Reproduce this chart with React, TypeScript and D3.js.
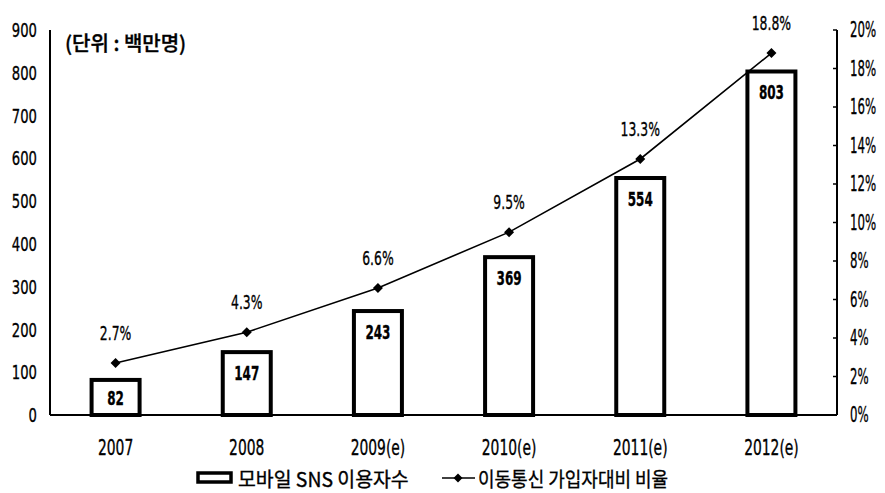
import React from "react";
import * as d3 from "d3";

const categories = ["2007", "2008", "2009(e)", "2010(e)", "2011(e)", "2012(e)"];
const users = [82, 147, 243, 369, 554, 803];
const ratio = [2.7, 4.3, 6.6, 9.5, 13.3, 18.8];
const leftTicks = [0, 100, 200, 300, 400, 500, 600, 700, 800, 900];
const rightTicks = [0, 2, 4, 6, 8, 10, 12, 14, 16, 18, 20];
const unitLabel = "(단위 : 백만명)";
const barLegend = "모바일 SNS 이용자수";
const lineLegend = "이동통신 가입자대비 비율";

const W = 885;
const H = 493;
const left = 50;
const right = 837;
const top = 30;
const bottom = 415;

const numFont = "'DejaVu Sans', 'Liberation Sans', sans-serif";
const krFont = "'Noto Sans CJK KR', 'Noto Sans', sans-serif";

type TxtProps = {
  x: number;
  y: number;
  sx?: number;
  anchor?: "start" | "middle" | "end";
  size?: number;
  weight?: number;
  font?: string;
  children: React.ReactNode;
};

// Text squeezed horizontally to mimic a condensed typeface
function Txt({ x, y, sx = 0.68, anchor = "start", size = 20, weight = 400, font = numFont, children }: TxtProps) {
  return (
    <text
      transform={`translate(${x},${y}) scale(${sx},1)`}
      textAnchor={anchor}
      dominantBaseline="central"
      fontFamily={font}
      fontSize={size}
      fontWeight={weight}
      fill="#000"
      stroke="#000"
      strokeWidth={0.35}
    >
      {children}
    </text>
  );
}

export default function App() {
  const x = d3.scaleBand<string>().domain(categories).range([left, right]).paddingInner(0).paddingOuter(0);
  const yL = d3.scaleLinear().domain([0, 900]).range([bottom, top]);
  const yR = d3.scaleLinear().domain([0, 20]).range([bottom, top]);
  const barW = 48;
  const cx = (c: string) => (x(c) ?? 0) + x.bandwidth() / 2;

  const line = d3
    .line<number>()
    .x((_, i) => cx(categories[i]))
    .y((d) => yR(d));

  const diamond = (px: number, py: number, r: number) =>
    `M${px},${py - r}L${px + r},${py}L${px},${py + r}L${px - r},${py}Z`;

  return (
    <svg width={W} height={H} style={{ position: "absolute", left: 0, top: 0, background: "#fff" }}>
      <rect x={0} y={0} width={W} height={H} fill="#fff" />

      {/* left axis */}
      <line x1={left} x2={left} y1={top} y2={bottom} stroke="#000" strokeWidth={2} />
      {leftTicks.map((t) => (
        <Txt key={"l" + t} x={37} y={yL(t)} anchor="end" sx={0.66}>
          {t}
        </Txt>
      ))}

      {/* right axis */}
      <line x1={right} x2={right} y1={top} y2={bottom} stroke="#000" strokeWidth={2} />
      {rightTicks.map((t) => (
        <g key={"r" + t}>
          <line x1={right - 4} x2={right} y1={yR(t)} y2={yR(t)} stroke="#000" strokeWidth={1.5} />
          <Txt x={850} y={yR(t)} sx={0.56} size={21}>
            {t}%
          </Txt>
        </g>
      ))}

      {/* baseline */}
      <line x1={left} x2={right} y1={bottom} y2={bottom} stroke="#000" strokeWidth={2} />

      <Txt x={65} y={42} font={krFont} size={20} sx={1.0} weight={500}>
        {unitLabel}
      </Txt>

      {/* bars */}
      {users.map((v, i) => {
        const c = categories[i];
        const bx = cx(c) - barW / 2;
        const by = yL(v);
        return (
          <g key={"b" + c}>
            <rect
              x={bx}
              y={by}
              width={barW}
              height={bottom - by}
              fill="#fff"
              stroke="#000"
              strokeWidth={4}
            />
            <Txt x={cx(c)} y={Math.min(by + 21, bottom - 17)} anchor="middle" size={20} weight={700} sx={0.6}>
              {v}
            </Txt>
          </g>
        );
      })}

      {/* ratio line */}
      <path d={line(ratio) ?? ""} fill="none" stroke="#000" strokeWidth={1.6} />
      {ratio.map((v, i) => {
        const c = categories[i];
        return (
          <g key={"p" + c}>
            <path d={diamond(cx(c), yR(v), 5)} fill="#000" />
            <Txt x={cx(c)} y={yR(v) - 30} anchor="middle" size={20} sx={0.62}>
              {v.toFixed(1)}%
            </Txt>
          </g>
        );
      })}

      {/* category labels */}
      {categories.map((c) => (
        <Txt key={"c" + c} x={cx(c)} y={447} anchor="middle" size={21} sx={0.66}>
          {c}
        </Txt>
      ))}

      {/* legend */}
      <rect x={198} y={473} width={33} height={9} fill="#fff" stroke="#000" strokeWidth={3.5} />
      <Txt x={238} y={478} font={krFont} size={20} sx={0.97}>
        {barLegend}
      </Txt>
      <line x1={442} x2={475} y1={478} y2={478} stroke="#000" strokeWidth={1.6} />
      <path d={diamond(458, 478, 4.5)} fill="#000" />
      <Txt x={478} y={478} font={krFont} size={20} sx={0.9}>
        {lineLegend}
      </Txt>
    </svg>
  );
}
